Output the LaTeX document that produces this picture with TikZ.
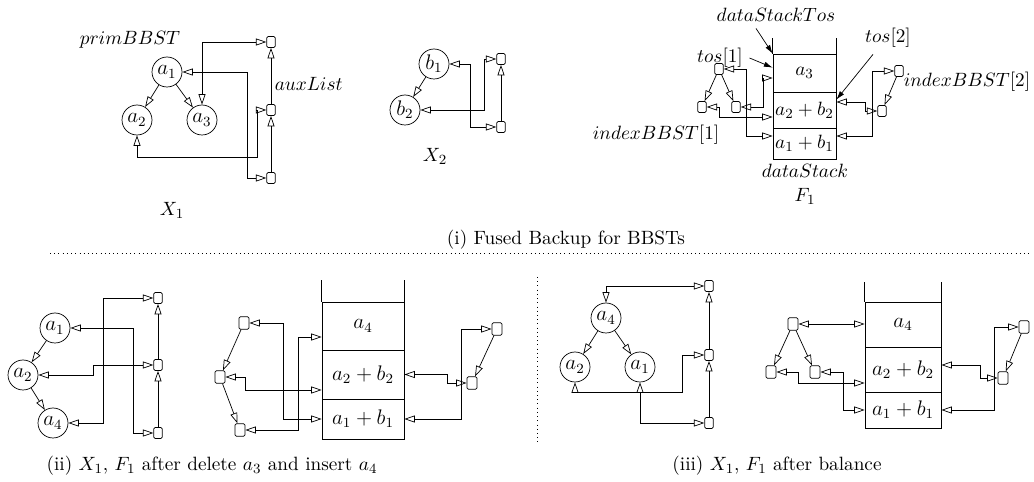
\documentclass[11pt,tikz,border=0pt]{standalone}
\usetikzlibrary{arrows.meta}
\begin{document}
\begin{tikzpicture}[x=0.02cm,y=-0.02cm,
  tnode/.style={draw,circle,inner sep=0pt,minimum size=0.6cm,font=\large},
  lnode/.style={draw,rounded corners=0.8pt,inner sep=0pt,
                minimum width=0.17cm,minimum height=0.22cm},
  inode/.style={lnode,minimum width=0.2cm,minimum height=0.25cm},
  cell/.style={draw,inner sep=0pt,minimum width=1.26cm},
  bcell/.style={draw,inner sep=0pt,font=\large},
  arr/.style={-{Triangle[open,length=6pt,width=4pt]}},
  darr/.style={{Triangle[open,length=6pt,width=4pt]}-{Triangle[open,length=6pt,width=4pt]}},
  ptr/.style={-{Latex[length=5pt,width=3pt]}}]
\useasboundingbox (0,0) rectangle (1034,482);

\node (pb) at (130,40) {$primBBST$};
\node[tnode] (a1) at (167,72) {$a_1$};
\node[tnode] (a2) at (137,120) {$a_2$};
\node[tnode] (a3) at (202,120) {$a_3$};
\node[lnode] (l1) at (271,42) {};
\node[lnode] (l2) at (271,110) {};
\node[lnode] (l3) at (271,178) {};
\node[anchor=west] (al) at (268,84) {$auxList$};
\node (x1) at (172,210) {$X_1$};
\draw[arr] (a1)--(a2);
\draw[arr] (a1)--(a3);
\draw[arr] (l3)--(l2);
\draw[arr] (l2)--(l1);
\draw[darr] (a3.north) |- (l1.west);
\draw[darr] (a1.east) -- ++(65,0) |- (l3.west);
\draw[darr] (a2.south) |- ++(120,22) |- (l2.west);

\node[tnode] (b1) at (434,64) {$b_1$};
\node[tnode] (b2) at (405,110) {$b_2$};
\node[lnode] (m1) at (501,59) {};
\node[lnode] (m2) at (501,127) {};
\node (x2) at (435,156) {$X_2$};
\draw[arr] (b1)--(b2);
\draw[arr] (m2)--(m1);
\draw[darr] (b1.east) -- ++(21,0) |- (m2.west);
\draw[darr] (b2.east) -- ++(64,0) |- (m1.west);

\node[cell,minimum height=0.76cm] (c3) at (804.5,73) {$a_3$};
\node[cell,minimum height=0.72cm] (c2) at (804.5,110) {$a_2+b_2$};
\node[cell,minimum height=0.62cm] (c1) at (804.5,143.5) {$a_1+b_1$};
\draw (c3.north west) -- ++(0,-16);
\draw (c3.north east) -- ++(0,-16);
\node (ds) at (805,171) {$dataStack$};
\node (f1) at (805,196) {$F_1$};
\node (dst) at (776,15) {$dataStackTos$};
\node (t1) at (720,58) {$tos[1]$};
\node (t2) at (888,38) {$tos[2]$};
\node[anchor=east] (ib1) at (726,135) {$indexBBST[1]$};
\node[anchor=west] (ib2) at (897,82) {$indexBBST[2]$};
\draw[ptr] ([xshift=-0.4cm]dst.south) -- (c3.north west);
\draw[ptr] (t1.east) -- ([yshift=-0.28cm]c3.north west);
\draw[ptr] ([xshift=-0.3cm]t2.south) -- ([yshift=-0.16cm]c2.north east);
\node[lnode] (r) at (719,69) {};
\node[lnode] (rl) at (702,107) {};
\node[lnode] (rr) at (736,107) {};
\draw[arr] (r)--(rl);
\draw[arr] (r)--(rr);
\draw[darr] (r.east) -- ++(23,0) |- ([yshift=0.15cm]c1.west);
\draw[darr] (rr.east) -- ++(23,0) |- ([yshift=-0.1cm]c3.west);
\draw[darr] (rl.east) -- ++(13,0) |- ([yshift=-0.14cm]c2.west);
\node[lnode] (s) at (899,71) {};
\node[lnode] (sc) at (882,111) {};
\draw[arr] (s)--(sc);
\draw[darr] (s.west) -- ++(-22,0) |- ([yshift=0.15cm]c1.east);
\draw[darr] (sc.west) -- ++(-12,0) |- ([yshift=0.16cm]c2.east);

\node (cap1) at (566,240) {(i) Fused Backup for BBSTs};
\draw[dotted] (50,253) -- (1030,253);

\node[tnode] (p1) at (55,328) {$a_1$};
\node[tnode] (p2) at (23,375) {$a_2$};
\node[tnode] (p4) at (53,423) {$a_4$};
\node[lnode] (n1) at (158,298) {};
\node[lnode] (n2) at (158,365) {};
\node[lnode] (n3) at (158,433) {};
\draw[arr] (p1)--(p2);
\draw[arr] (p2)--(p4);
\draw[arr] (n3)--(n2);
\draw[arr] (n2)--(n1);
\draw[darr] (p1.east) -- ++(63,0) |- (n3.west);
\draw[darr] (p2.east) -- ++(55,0) |- (n2.west);
\draw[darr] (p4.east) -- ++(35,0) |- (n1.west);

\node[bcell,minimum width=1.64cm,minimum height=0.96cm] (d3) at (363,326) {$a_4$};
\node[bcell,minimum width=1.64cm,minimum height=0.98cm] (d2) at (363,374.5) {$a_2+b_2$};
\node[bcell,minimum width=1.64cm,minimum height=0.8cm] (d1) at (363,419) {$a_1+b_1$};
\draw (d3.north west) -- ++(0,-22);
\draw (d3.north east) -- ++(0,-22);
\node[inode] (u) at (244,323) {};
\node[inode] (um) at (220,377) {};
\node[inode] (ub) at (240,430) {};
\draw[arr] (u)--(um);
\draw[arr] (um)--(ub);
\draw[darr] (u.east) -- ++(34,0) |- (d1.west);
\draw[darr] (um.east) -- ++(20,0) |- ([yshift=-0.31cm]d2.west);
\draw[darr] (ub.east) -- ++(53,0) |- ([yshift=-0.22cm]d3.west);
\node[inode] (v) at (497,329) {};
\node[inode] (vc) at (472,383) {};
\draw[arr] (v)--(vc);
\draw[darr] (v.west) -- ++(-30,0) |- (d1.east);
\draw[darr] (vc.west) -- ++(-19,0) |- (d2.east);
\node (cap2) at (212,466) {(ii) $X_1$, $F_1$ after delete $a_3$ and insert $a_4$};

\draw[dotted] (537,277) -- (537,442);

\node[tnode] (q4) at (606,318) {$a_4$};
\node[tnode] (q2) at (575,367) {$a_2$};
\node[tnode] (q1) at (640,367) {$a_1$};
\node[lnode] (o1) at (709,286) {};
\node[lnode] (o2) at (709,355) {};
\node[lnode] (o3) at (709,423) {};
\draw[arr] (q4)--(q2);
\draw[arr] (q4)--(q1);
\draw[arr] (o3)--(o2);
\draw[arr] (o2)--(o1);
\draw[darr] (q4.north) |- (o1.west);
\draw[darr] (q2.south) |- ++(107,10) |- (o2.west);
\draw[darr] (q1.south) |- (o3.west);

\node[bcell,minimum width=1.52cm,minimum height=0.9cm] (e3) at (903,324.5) {$a_4$};
\node[bcell,minimum width=1.52cm,minimum height=0.9cm] (e2) at (903,369.5) {$a_2+b_2$};
\node[bcell,minimum width=1.52cm,minimum height=0.72cm] (e1) at (903,410) {$a_1+b_1$};
\draw (e3.north west) -- ++(0,-20);
\draw (e3.north east) -- ++(0,-20);
\node[inode] (w) at (793,324) {};
\node[inode] (wl) at (771,372) {};
\node[inode] (wr) at (815,372) {};
\draw[arr] (w)--(wl);
\draw[arr] (w)--(wr);
\draw[darr] (w.east) -- (w.east -| e3.west);
\draw[darr] (wl.east) -- ++(22,0) |- ([yshift=-0.27cm]e2.west);
\draw[darr] (wr.east) -- ++(23,0) |- (e1.west);
\node[inode] (z) at (1024,327) {};
\node[inode] (zc) at (1003,378) {};
\draw[arr] (z)--(zc);
\draw[darr] (z.west) -- ++(-24,0) |- (e1.east);
\draw[darr] (zc.west) -- ++(-17,0) |- ([yshift=0.09cm]e2.east);
\node (cap3) at (777,466) {(iii) $X_1$, $F_1$ after balance};
\end{tikzpicture}
\end{document}
